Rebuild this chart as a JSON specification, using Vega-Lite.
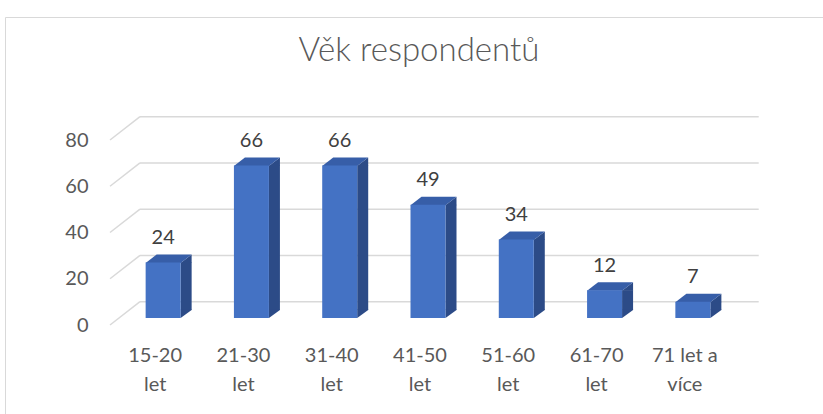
{
  "$schema": "https://vega.github.io/schema/vega-lite/v6.json",
  "width": 828,
  "height": 400,
  "autosize": {"type": "none"},
  "padding": {"left": 5, "top": 17, "right": 0, "bottom": 0},
  "background": "white",
  "config": {
    "view": {"stroke": "#d9d9d9", "strokeWidth": 1},
    "font": "Lato"
  },
  "title": {
    "text": "Věk respondentů",
    "font": "Lato",
    "fontSize": 33,
    "fontWeight": 300,
    "color": "#595959",
    "offset": -77,
    "baseline": "alphabetic",
    "anchor": "middle",
    "frame": "group"
  },
  "datasets": {
    "ages": [
      {"age": "15-20 let", "n": 24},
      {"age": "21-30 let", "n": 66},
      {"age": "31-40 let", "n": 66},
      {"age": "41-50 let", "n": 49},
      {"age": "51-60 let", "n": 34},
      {"age": "61-70 let", "n": 12},
      {"age": "71 let a více", "n": 7}
    ],
    "ticks": [{"t": 0}, {"t": 20}, {"t": 40}, {"t": 60}, {"t": 80}]
  },
  "resolve": {"scale": {"x": "shared", "y": "shared"}},
  "layer": [
    {
      "data": {"name": "ticks"},
      "mark": {"type": "rule", "color": "#d9d9d9", "strokeWidth": 1.5, "xOffset": 21, "x2Offset": 21.7, "yOffset": -16.3, "y2Offset": -16.3},
      "encoding": {
        "x": {"datum": "15-20 let", "bandPosition": 0, "type": "nominal"},
        "x2": {"datum": "71 let a více", "bandPosition": 1},
        "y": {"field": "t", "type": "quantitative"},
        "y2": {"field": "t"}
      }
    },
    {
      "data": {"name": "ticks"},
      "mark": {"type": "rule", "color": "#d9d9d9", "strokeWidth": 1.5, "xOffset": -9, "x2Offset": 21, "yOffset": 7, "y2Offset": -16.3},
      "encoding": {
        "x": {"datum": "15-20 let", "bandPosition": 0, "type": "nominal"},
        "x2": {"datum": "15-20 let", "bandPosition": 0},
        "y": {"field": "t", "type": "quantitative"},
        "y2": {"field": "t"}
      }
    },
    {
      "data": {"name": "ages"},
      "mark": {"type": "bar", "width": 11, "xOffset": 23, "y2Offset": -8, "color": "#2c4b87"},
      "encoding": {
        "x": {"field": "age", "type": "nominal"},
        "y": {"field": "n", "type": "quantitative"},
        "y2": {"datum": 0}
      }
    },
    {
      "data": {"name": "ages"},
      "mark": {"type": "point", "filled": true, "opacity": 1, "size": 400, "strokeWidth": 0, "color": "#2c4b87", "shape": "M1.75,0.05L2.85,-0.8L2.85,0.05Z"},
      "encoding": {
        "x": {"field": "age", "type": "nominal"},
        "y": {"field": "n", "type": "quantitative"}
      }
    },
    {
      "data": {"name": "ages"},
      "mark": {"type": "point", "filled": true, "opacity": 1, "size": 400, "strokeWidth": 0, "color": "#2c4b87", "shape": "M1.75,-0.85L1.75,0L2.85,-0.8L2.85,-0.85Z"},
      "encoding": {
        "x": {"field": "age", "type": "nominal"},
        "y": {"datum": 0, "type": "quantitative"}
      }
    },
    {
      "data": {"name": "ages"},
      "mark": {"type": "point", "filled": true, "opacity": 1, "size": 400, "strokeWidth": 0, "color": "#375ea8", "shape": "M-1.75,0.05L1.75,0.05L2.85,-0.8L-0.65,-0.8Z"},
      "encoding": {
        "x": {"field": "age", "type": "nominal"},
        "y": {"field": "n", "type": "quantitative"}
      }
    },
    {
      "data": {"name": "ages"},
      "mark": {"type": "bar", "width": 35, "color": "#4472c4"},
      "encoding": {
        "x": {
          "field": "age",
          "type": "nominal",
          "sort": null,
          "scale": {"type": "band", "domain": ["15-20 let", "21-30 let", "31-40 let", "41-50 let", "51-60 let", "61-70 let", "71 let a více"], "range": [114, 732], "paddingInner": 0, "paddingOuter": 0},
          "axis": {
            "orient": "bottom",
            "offset": -56,
            "ticks": false,
            "domain": false,
            "grid": false,
            "labelPadding": 0,
            "labelAlign": "center",
            "labelBaseline": "alphabetic",
            "labelLineHeight": 29,
            "labelFontSize": 20,
            "labelFont": "Lato",
            "labelColor": "#595959",
            "labelOffset": -8,
            "labelAngle": 0,
            "labelOverlap": false,
            "labelExpr": "datum.value == '71 let a více' ? ['71 let a', 'více'] : split(datum.value, ' ')",
            "title": null
          }
        },
        "y": {
          "field": "n",
          "type": "quantitative",
          "scale": {"domain": [0, 80], "range": [301, 116], "nice": false, "zero": true},
          "axis": {
            "orient": "left",
            "offset": -83,
            "values": [0, 20, 40, 60, 80],
            "ticks": false,
            "domain": false,
            "grid": false,
            "labelPadding": 0,
            "labelFontSize": 20,
            "labelFont": "Lato",
            "labelColor": "#595959",
            "labelOffset": 7,
            "title": null
          }
        },
        "y2": {"datum": 0}
      }
    },
    {
      "data": {"name": "ages"},
      "mark": {"type": "text", "dy": -18.5, "baseline": "alphabetic", "fontSize": 20, "font": "Lato", "color": "#404040"},
      "encoding": {
        "x": {"field": "age", "type": "nominal"},
        "y": {"field": "n", "type": "quantitative"},
        "text": {"field": "n", "type": "quantitative"}
      }
    }
  ]
}
